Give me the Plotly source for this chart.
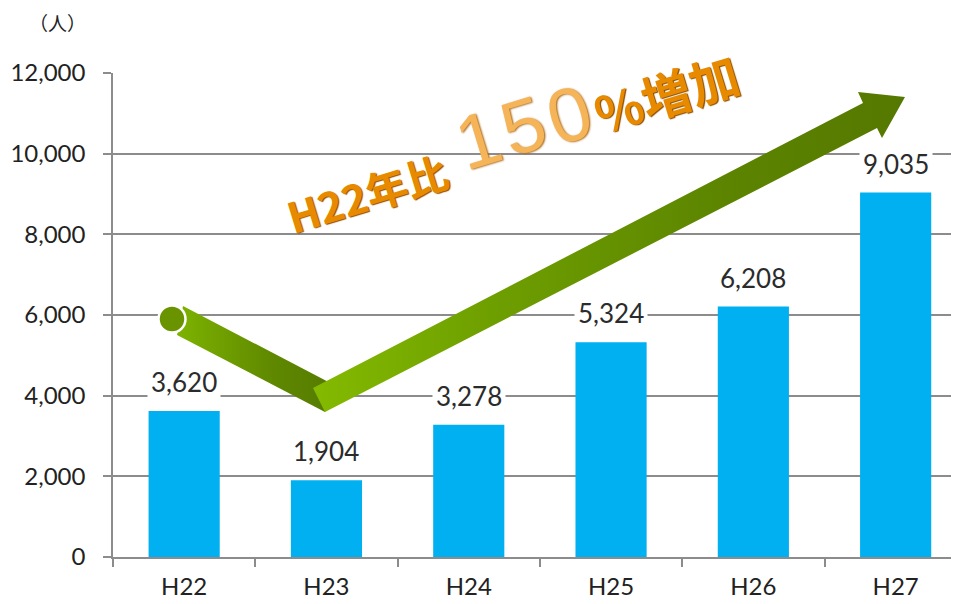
import plotly.graph_objects as go

categories = ["H22", "H23", "H24", "H25", "H26", "H27"]
visitors = [3620, 1904, 3278, 5324, 6208, 9035]
y_ticks = [0, 2000, 4000, 6000, 8000, 10000, 12000]
y_tick_labels = ["0", "2,000", "4,000", "6,000", "8,000", "10,000", "12,000"]

# decorative arrow outline (overlay axis in pixel units of the page)
desc_x = [183, 338, 325, 177]
desc_y = [306, 387, 412, 335]
asc_x = [313, 863, 858, 905, 882, 877, 325]
asc_y = [388, 103, 92, 97, 138, 128, 412]
dot_x = [172]
dot_y = [319]

# headline pieces
big_digits = ["1", "5", "0"]
big_digit_x = [478, 523, 569]
big_digit_y = [139, 125, 114]

OFF = 8  # page body margin of the html page
PL, PR, PT, PB = 113, 957, 73, 557  # plot area in page pixels
CAT_W = 142.3  # category width in pixels (reference is cropped at right)
W, H = 959 - OFF, 604 - OFF
L, T = PL - OFF, PT - OFF
R = W - (PR - OFF)
B = H - (PB - OFF)
x_end = -0.5 + (PR - PL) / CAT_W

fig = go.Figure()
fig.add_trace(go.Bar(
    x=categories, y=visitors, marker=dict(color="#00B0F0", line=dict(width=0)),
    hoverinfo="skip", showlegend=False,
))

fig.add_trace(go.Scatter(
    x=desc_x + [desc_x[0]], y=desc_y + [desc_y[0]], xaxis="x2", yaxis="y2",
    mode="lines", line=dict(width=0), fill="toself",
    fillgradient=dict(type="horizontal",
                      colorscale=[[0, "#7DB300"], [0.6, "#5F8800"], [1, "#557A00"]]),
    hoverinfo="skip", showlegend=False,
))
fig.add_trace(go.Scatter(
    x=dot_x, y=dot_y, xaxis="x2", yaxis="y2", mode="markers",
    marker=dict(size=27, color="#6A9300", line=dict(color="white", width=2.5)),
    hoverinfo="skip", showlegend=False,
))
fig.add_trace(go.Scatter(
    x=asc_x + [asc_x[0]], y=asc_y + [asc_y[0]], xaxis="x2", yaxis="y2",
    mode="lines", line=dict(width=0), fill="toself",
    fillgradient=dict(type="horizontal",
                      colorscale=[[0, "#84BA00"], [0.3, "#6E9F00"], [0.7, "#5C8400"], [1, "#557800"]]),
    hoverinfo="skip", showlegend=False,
))

annotations = []
for c, v in zip(categories, visitors):
    annotations.append(dict(
        x=c, y=v, xref="x", yref="y", text=f"{v:,}", showarrow=False,
        xanchor="center", yanchor="bottom", yshift=9, bgcolor="white", borderpad=3,
        font=dict(family="Lato, 'Open Sans', sans-serif", size=26, color="#2b2b2b"),
    ))

shadow = "1px 1px 1px #8A4B00"
annotations.append(dict(
    x=366, y=192, xref="x2", yref="y2", text="<b>H22年比</b>", showarrow=False,
    xanchor="center", yanchor="middle",
    textangle=-17, font=dict(family="Noto Sans CJK JP", size=42, color="#E88A00", shadow=shadow)))
for d, dx, dy in zip(big_digits, big_digit_x, big_digit_y):
    annotations.append(dict(
        x=dx, y=dy, xref="x2", yref="y2", text=d, showarrow=False,
        xanchor="center", yanchor="middle", textangle=-17,
        font=dict(family="Liberation Sans, Arial", size=76,
                  color="#F5B457", shadow="1px 1px 2px #A86818")))
annotations += [
    dict(x=666, y=92, xref="x2", yref="y2", text="<b>%増加</b>", showarrow=False,
         xanchor="center", yanchor="middle",
         textangle=-17, font=dict(family="Noto Sans CJK JP", size=50, color="#E88A00", shadow=shadow)),
    dict(x=(58 - PL) / (PR - PL), y=(PB - 22) / (PB - PT), xref="paper", yref="paper",
         text="（人）", showarrow=False, xanchor="center", yanchor="middle", borderpad=0,
         font=dict(family="Noto Sans CJK JP", size=19, color="#222")),
]

fig.update_layout(
    width=W, height=H, margin=dict(l=L, r=R, t=T, b=B, autoexpand=False),
    paper_bgcolor="white", plot_bgcolor="white",
    bargap=0.5,
    annotations=annotations,
    xaxis=dict(
        type="category", range=[-0.5, x_end], showgrid=False, showline=True,
        linecolor="#8C8C8C", linewidth=1.5,
        ticks="outside", tickson="boundaries", ticklen=8, tickcolor="#8C8C8C", tickwidth=1.5,
        ticklabelstandoff=7,
        tickfont=dict(family="Lato, 'Open Sans', sans-serif", size=24, color="#222"),
    ),
    yaxis=dict(
        range=[0, 12000], tickvals=y_ticks, ticktext=y_tick_labels,
        showgrid=True, gridcolor="#8C8C8C", gridwidth=1.5,
        showline=True, linecolor="#8C8C8C", linewidth=1.5,
        ticks="outside", ticklen=8, tickcolor="#8C8C8C", tickwidth=1.5,
        ticklabelstandoff=13, zeroline=False,
        tickfont=dict(family="Lato, 'Open Sans', sans-serif", size=24, color="#222"),
    ),
    xaxis2=dict(overlaying="x", range=[PL, PR], visible=False, fixedrange=True),
    yaxis2=dict(overlaying="y", range=[PB, PT], visible=False, fixedrange=True),
)

fig.write_html("out.html")
